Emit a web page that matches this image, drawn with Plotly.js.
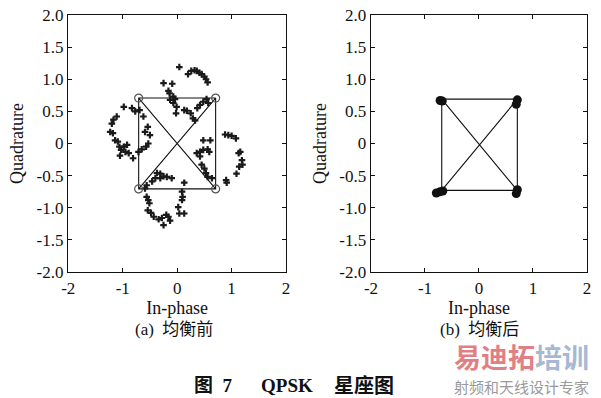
<!DOCTYPE html>
<html>
<head>
<meta charset="utf-8">
<script src="https://cdn.plot.ly/plotly-3.0.1.min.js"></script>
<style>
html,body{margin:0;padding:0;background:#fff;}
#chart{width:601px;height:398px;}
</style>
</head>
<body>
<div id="chart"></div>
<script>
// ---- data ----
// (a) before equalization: received symbols
const beforeI = [
  0.04,0.20,0.26,0.32,0.36,0.41,0.45,0.50,0.53,0.56,-0.25,-0.09,-0.16,-0.14,-0.07,-0.04,-0.13,-0.07,-0.01,-0.02,0.13,0.18,0.25,0.29,0.33,0.37,0.42,0.48,0.54,0.57,
  -0.98,-0.83,-0.77,-0.69,-0.62,-1.11,-1.17,-1.20,-1.23,-1.18,-1.14,-1.09,-1.06,-0.98,-0.92,-1.03,-0.95,-0.89,-1.05,-0.81,-0.71,-0.65,-0.57,-0.53,-0.50,-0.54,-0.59,
  0.88,0.94,1.00,1.08,1.16,1.13,1.19,1.20,1.14,1.09,0.90,0.91,0.48,0.61,0.56,0.59,0.48,0.42,0.36,0.45,0.50,0.53,0.56,0.64,0.42,
  -0.56,-0.53,-0.51,-0.54,-0.48,-0.43,-0.34,-0.28,-0.20,-0.16,-0.13,-0.25,0.02,0.04,0.13,0.09,0.10,0.09,0.13,-0.37,-0.31,-0.25,-0.19,-0.10,-0.40,-0.46,-0.56,-0.59,-0.31
];
const beforeQ = [
  1.19,1.08,1.13,1.14,1.13,1.10,1.08,1.04,1.00,0.95,0.94,0.93,0.82,0.78,0.73,0.69,0.68,0.63,0.57,0.47,0.52,0.51,0.47,0.39,0.36,0.55,0.60,0.65,0.69,0.63,
  0.57,0.55,0.50,0.52,0.42,0.42,0.37,0.31,0.18,0.16,0.05,0.03,-0.05,-0.05,-0.02,-0.10,-0.13,-0.15,-0.19,-0.23,-0.13,-0.09,-0.05,0.00,0.13,0.26,0.18,
  0.14,0.13,0.12,0.08,-0.13,-0.15,-0.26,-0.33,-0.36,-0.47,-0.57,-0.61,0.05,0.05,-0.09,-0.13,-0.10,-0.13,-0.15,-0.33,-0.39,-0.46,-0.52,-0.54,-0.20,
  -0.83,-0.88,-0.93,-1.04,-1.08,-1.14,-1.18,-1.16,-1.11,-1.14,-1.20,-1.27,-0.99,-1.09,-1.09,-0.88,-0.83,-0.75,-0.61,-0.46,-0.47,-0.51,-0.52,-0.54,-0.54,-0.59,-0.65,-0.70,-0.54
];
// ideal QPSK constellation
const idealI = [-0.707, 0.707, 0.707, -0.707];
const idealQ = [0.707, 0.707, -0.707, -0.707];
// transition path through constellation (UL, LR, LL, UR, UL, LL, LR, UR)
const pathAI = [-0.707, 0.707, -0.707, 0.707, -0.707, -0.707, 0.707, 0.707];
const pathAQ = [0.707, -0.707, -0.707, 0.707, 0.707, -0.707, -0.707, 0.707];
// (b) after equalization
const afterI = [-0.72, -0.68, 0.71, 0.69, -0.72, -0.79, -0.67, 0.71, 0.69];
const afterQ = [0.67, 0.66, 0.68, 0.61, -0.75, -0.77, -0.74, -0.72, -0.78];
const pathBI = [-0.69, 0.71, -0.69, 0.71, -0.69, -0.69, 0.71, 0.71];
const pathBQ = [0.69, -0.73, -0.73, 0.69, 0.69, -0.73, -0.73, 0.69];
// ticks
const xTicks = [-2, -1, 0, 1, 2];
const xTickText = ['-2', '-1', '0', '1', '2'];
const yTicks = [2, 1.5, 1, 0.5, 0, -0.5, -1, -1.5, -2];
const yTickText = ['2.0', '1.5', '1.0', '0.5', '0', '-0.5', '-1.0', '-1.5', '-2.0'];
const xTitle = 'In-phase';
const yTitle = 'Quadrature';
const captions = ['(a)&nbsp;&nbsp;均衡前', '(b)&nbsp;&nbsp;均衡后'];
const figTitleParts = ['图&nbsp;&nbsp;7', 'QPSK', '星座图'];
const watermark = ['易迪拓', '培训', '射频和天线设计专家'];

// ---- chart ----
const serif = 'Liberation Serif, Noto Sans CJK SC, serif';
const lineStyle = {color: '#111', width: 1.1};

const traces = [
  {x: pathAI, y: pathAQ, xaxis: 'x', yaxis: 'y', mode: 'lines', line: lineStyle, hoverinfo: 'skip'},
  {x: beforeI, y: beforeQ, xaxis: 'x', yaxis: 'y', mode: 'markers',
   marker: {symbol: 'cross', size: 5.5, color: '#1a1a1a'}},
  {x: idealI, y: idealQ, xaxis: 'x', yaxis: 'y', mode: 'markers',
   marker: {symbol: 'circle-open', size: 8, color: '#555', line: {width: 1.2, color: '#555'}}},
  {x: pathBI, y: pathBQ, xaxis: 'x2', yaxis: 'y2', mode: 'lines', line: lineStyle, hoverinfo: 'skip'},
  {x: afterI, y: afterQ, xaxis: 'x2', yaxis: 'y2', mode: 'markers',
   marker: {symbol: 'circle', size: 9, color: '#111'}}
];

function xax(domain, anchor) {
  return {
    domain: domain, anchor: anchor, range: [-2, 2],
    tickmode: 'array', tickvals: xTicks, ticktext: xTickText,
    ticks: 'inside', ticklen: 4, tickwidth: 1, tickcolor: '#111',
    showline: true, linecolor: '#111', linewidth: 1.4, mirror: 'ticks',
    showgrid: false, zeroline: false,
    tickfont: {family: serif, size: 17, color: '#111'},
    title: {text: xTitle, font: {family: serif, size: 18, color: '#111'}, standoff: 2}
  };
}
function yax(anchor) {
  return {
    domain: [0.3166, 0.9623], anchor: anchor, range: [-2, 2],
    tickmode: 'array', tickvals: yTicks, ticktext: yTickText,
    ticks: 'inside', ticklen: 4, tickwidth: 1, tickcolor: '#111',
    showline: true, linecolor: '#111', linewidth: 1.4, mirror: 'ticks',
    showgrid: false, zeroline: false,
    tickfont: {family: serif, size: 17, color: '#111'},
    title: {text: yTitle, font: {family: serif, size: 18, color: '#111'}, standoff: 8}
  };
}

function ann(text, xpx, ypx, size, color, bold, anchor) {
  return {text: bold ? '<b>' + text + '</b>' : text, xref: 'paper', yref: 'paper',
    x: xpx / 601, y: 1 - ypx / 398, showarrow: false,
    font: {family: serif, size: size, color: color},
    xanchor: anchor || 'center', yanchor: 'middle'};
}

const layout = {
  width: 601, height: 398,
  margin: {l: 0, r: 0, t: 0, b: 0},
  paper_bgcolor: '#fff', plot_bgcolor: '#fff',
  showlegend: false,
  xaxis: xax([0.1136, 0.4759], 'y'),
  yaxis: yax('x'),
  xaxis2: xax([0.6173, 0.9767], 'y2'),
  yaxis2: yax('x2'),
  annotations: [
    ann(captions[0], 174, 329, 17, '#111', false),
    ann(captions[1], 479, 329, 17, '#111', false),
    ann(figTitleParts[0], 192, 385, 19, '#111', true, 'left'),
    ann(figTitleParts[1], 259, 385, 19, '#111', true, 'left'),
    ann(figTitleParts[2], 332, 385, 20, '#111', true, 'left'),
    {text: '<b><span style="color:#e27f85">' + watermark[0] + '</span><span style="color:#a6b8d3">' + watermark[1] + '</span></b>',
     xref: 'paper', yref: 'paper', x: 521/601, y: 1 - 356/398, showarrow: false,
     font: {family: 'Noto Sans CJK SC', size: 27}, xanchor: 'center', yanchor: 'middle'},
    {text: watermark[2], xref: 'paper', yref: 'paper', x: 521/601, y: 1 - 386/398, showarrow: false,
     font: {family: 'Noto Sans CJK SC', size: 15, color: '#9a9a9a'}, xanchor: 'center', yanchor: 'middle'}
  ]
};

Plotly.newPlot('chart', traces, layout, {displayModeBar: false, staticPlot: true});
</script>
</body>
</html>
